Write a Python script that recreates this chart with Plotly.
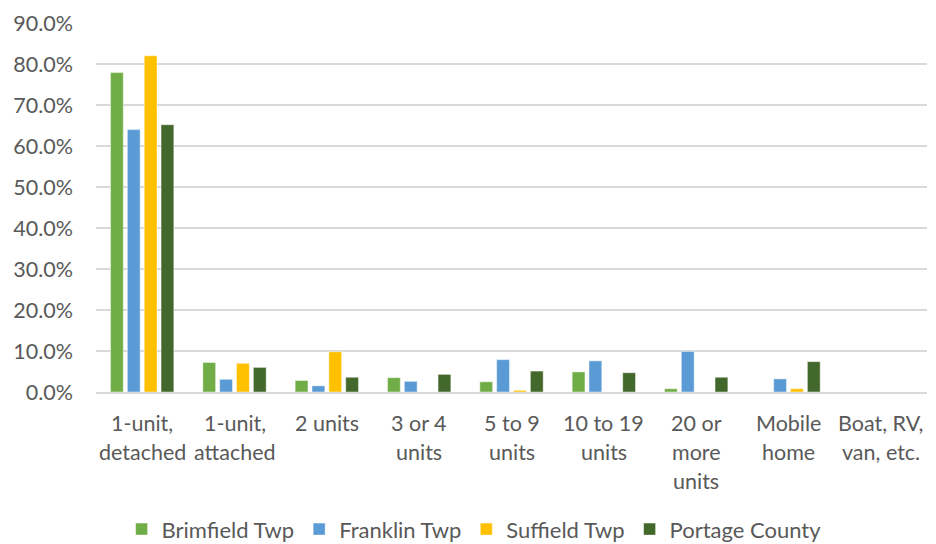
import plotly.graph_objects as go

# Housing units by structure type (share of all housing units)
categories = ["1-unit, detached", "1-unit, attached", "2 units", "3 or 4 units",
              "5 to 9 units", "10 to 19 units", "20 or more units",
              "Mobile home", "Boat, RV, van, etc."]
category_lines = [["1-unit,", "detached"], ["1-unit,", "attached"], ["2 units"],
                  ["3 or 4", "units"], ["5 to 9", "units"], ["10 to 19", "units"],
                  ["20 or", "more", "units"], ["Mobile", "home"], ["Boat, RV,", "van, etc."]]

brimfield = [0.779, 0.072, 0.028, 0.035, 0.025, 0.049, 0.008, 0.0, 0.0]
franklin = [0.640, 0.031, 0.015, 0.026, 0.079, 0.076, 0.099, 0.032, 0.0]
suffield = [0.820, 0.070, 0.098, 0.0, 0.004, 0.0, 0.0, 0.008, 0.0]
portage = [0.652, 0.060, 0.036, 0.043, 0.051, 0.047, 0.036, 0.074, 0.0]

series = [
    ("Brimfield Twp", brimfield, "#70AD47"),
    ("Franklin Twp", franklin, "#5B9BD5"),
    ("Suffield Twp", suffield, "#FFC000"),
    ("Portage County", portage, "#43682B"),
]

y_ticks = [i / 10 for i in range(10)]

FONT = "Lato, 'Open Sans', sans-serif"
TEXT = "#595959"
SIZE = 21.5

fig = go.Figure()
for name, vals, color in series:
    fig.add_trace(go.Bar(
        name=name, x=categories, y=vals,
        marker=dict(color=color, line=dict(color="rgba(255,255,255,0.45)", width=1)),
    ))

# Multi-line category labels, one annotation per line
annotations = []
for cat, lines in zip(categories, category_lines):
    for i, line in enumerate(lines):
        annotations.append(dict(
            x=cat, xref="x", y=0, yref="paper", text=line, showarrow=False,
            xanchor="center", yanchor="middle", yshift=-31 - 29 * i,
            font=dict(family=FONT, size=SIZE, color=TEXT),
        ))

fig.update_layout(
    width=936, height=544,
    margin=dict(l=96, r=9, t=23, b=151.5, autoexpand=False),
    paper_bgcolor="white", plot_bgcolor="white",
    barmode="group", bargap=0.27, bargroupgap=0.24,
    font=dict(family=FONT, size=SIZE, color=TEXT),
    annotations=annotations,
    legend=dict(
        orientation="h", x=0.455, xanchor="center",
        yref="container", y=0.027, yanchor="middle",
        font=dict(family=FONT, size=22, color=TEXT), itemwidth=30,
        traceorder="normal",
    ),
    xaxis=dict(
        showticklabels=False, showgrid=False, showline=True,
        linecolor="#D9D9D9", linewidth=1.5, ticks="",
    ),
    yaxis=dict(
        range=[0, 0.9], tickvals=y_ticks, tickformat=".1%",
        showgrid=True, gridcolor="#D9D9D9", gridwidth=1.5,
        zeroline=False, showline=False, ticks="",
        ticklabelstandoff=22,
        tickfont=dict(family=FONT, size=SIZE, color=TEXT),
    ),
)

fig.write_html("out.html")
